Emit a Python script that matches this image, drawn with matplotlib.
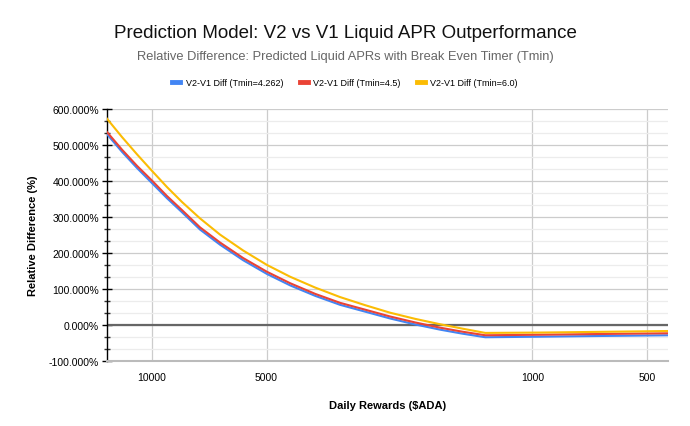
import matplotlib
matplotlib.use("Agg")
import matplotlib.pyplot as plt
from matplotlib.ticker import FuncFormatter, FixedLocator, MultipleLocator, NullLocator

# Daily rewards ($ADA) sample points
rewards = [13158, 11992, 10950, 10000, 9131, 8337, 7476, 6624, 5761, 4991, 4333,
           3725, 3202, 2751, 2364, 2032, 1747, 1529, 1330, 953, 662, 440]

# Relative difference (%) per series
diff_4262 = [531, 481, 436, 394, 352, 313, 265, 223, 180, 142, 110,
             81, 56, 37, 18, 1.5, -13, -24, -34, -32.5, -30.5, -28.6]
diff_45 = [537, 487, 442, 401, 358, 319, 271, 229, 186, 148, 116,
           86.5, 61.5, 42.5, 23.5, 7, -7.5, -18.5, -28.5, -27, -25, -23]
diff_60 = [574, 522, 474, 428, 383, 341.5, 296, 251, 207, 167, 134,
           104, 77.5, 55, 34, 17, 2, -10, -22, -21, -19, -16.7]

series_labels = ["V2-V1 Diff (Tmin=4.262)", "V2-V1 Diff (Tmin=4.5)", "V2-V1 Diff (Tmin=6.0)"]
series_colors = ["#4285F4", "#EA4335", "#FBBC04"]

x_ticks = [10000, 5000, 1000, 500]
x_tick_labels = ["10000", "5000", "1000", "500"]
y_ticks = [-100, 0, 100, 200, 300, 400, 500, 600]

plt.rcParams['font.family'] = ['Liberation Sans', 'DejaVu Sans']

fig = plt.figure(figsize=(6.9, 4.27), dpi=100)
ax = fig.add_axes([106.7 / 690, 1 - 362 / 427, (668 - 106.7) / 690, (362 - 110) / 427])

for vals, lab, col in zip([diff_4262, diff_45, diff_60], series_labels, series_colors):
    ax.plot(rewards, vals, color=col, lw=1.5, label=lab, zorder=3, solid_joinstyle='round')

ax.set_xscale('log')
ax.set_xlim(13158, 440)
ax.set_ylim(-100, 600)

ax.xaxis.set_major_locator(FixedLocator(x_ticks))
ax.xaxis.set_minor_locator(NullLocator())
ax.set_xticks(x_ticks)
ax.set_xticklabels(x_tick_labels)
ax.set_yticks(y_ticks)
ax.yaxis.set_minor_locator(MultipleLocator(100 / 3))
ax.yaxis.set_major_formatter(FuncFormatter(lambda v, p: f"{v:.3f}%"))

ax.grid(which='major', axis='both', color='#cccccc', lw=0.9, zorder=0)
ax.grid(which='minor', axis='y', color='#ececec', lw=0.9, zorder=0)
ax.axhline(0, color='#666666', lw=1.6, zorder=2)

for s in ['top', 'right']:
    ax.spines[s].set_visible(False)
ax.spines['left'].set_color('black')
ax.spines['left'].set_linewidth(1.0)
ax.spines['bottom'].set_color('#bbbbbb')
ax.spines['bottom'].set_linewidth(1.5)

ax.tick_params(axis='y', which='major', direction='inout', length=7, width=1.0, color='black',
               labelsize=7.5, pad=2)
ax.tick_params(axis='y', which='minor', direction='inout', length=5, width=1.0, color='#333333')
ax.tick_params(axis='x', which='major', length=0, labelsize=7.5, pad=8)

ax.set_xlabel("Daily Rewards ($ADA)", fontsize=8, fontweight='bold', labelpad=13)
ax.set_ylabel("Relative Difference (%)", fontsize=8, fontweight='bold', labelpad=8)

fig.text(0.5, 1 - 33 / 427, "Prediction Model: V2 vs V1 Liquid APR Outperformance",
         ha='center', va='center', fontsize=13.5, color='#111111')
fig.text(0.5, 1 - 57 / 427, "Relative Difference: Predicted Liquid APRs with Break Even Timer (Tmin)",
         ha='center', va='center', fontsize=9.3, color='#666666')

leg = fig.legend(loc='center', bbox_to_anchor=(0.5, 1 - 84 / 427), ncol=3, frameon=False,
                 fontsize=6.5, handlelength=0.9, handletextpad=0.6, columnspacing=1.8)
for h in leg.legend_handles:
    h.set_linewidth(3.5)

fig.savefig("out.png", dpi=100)
